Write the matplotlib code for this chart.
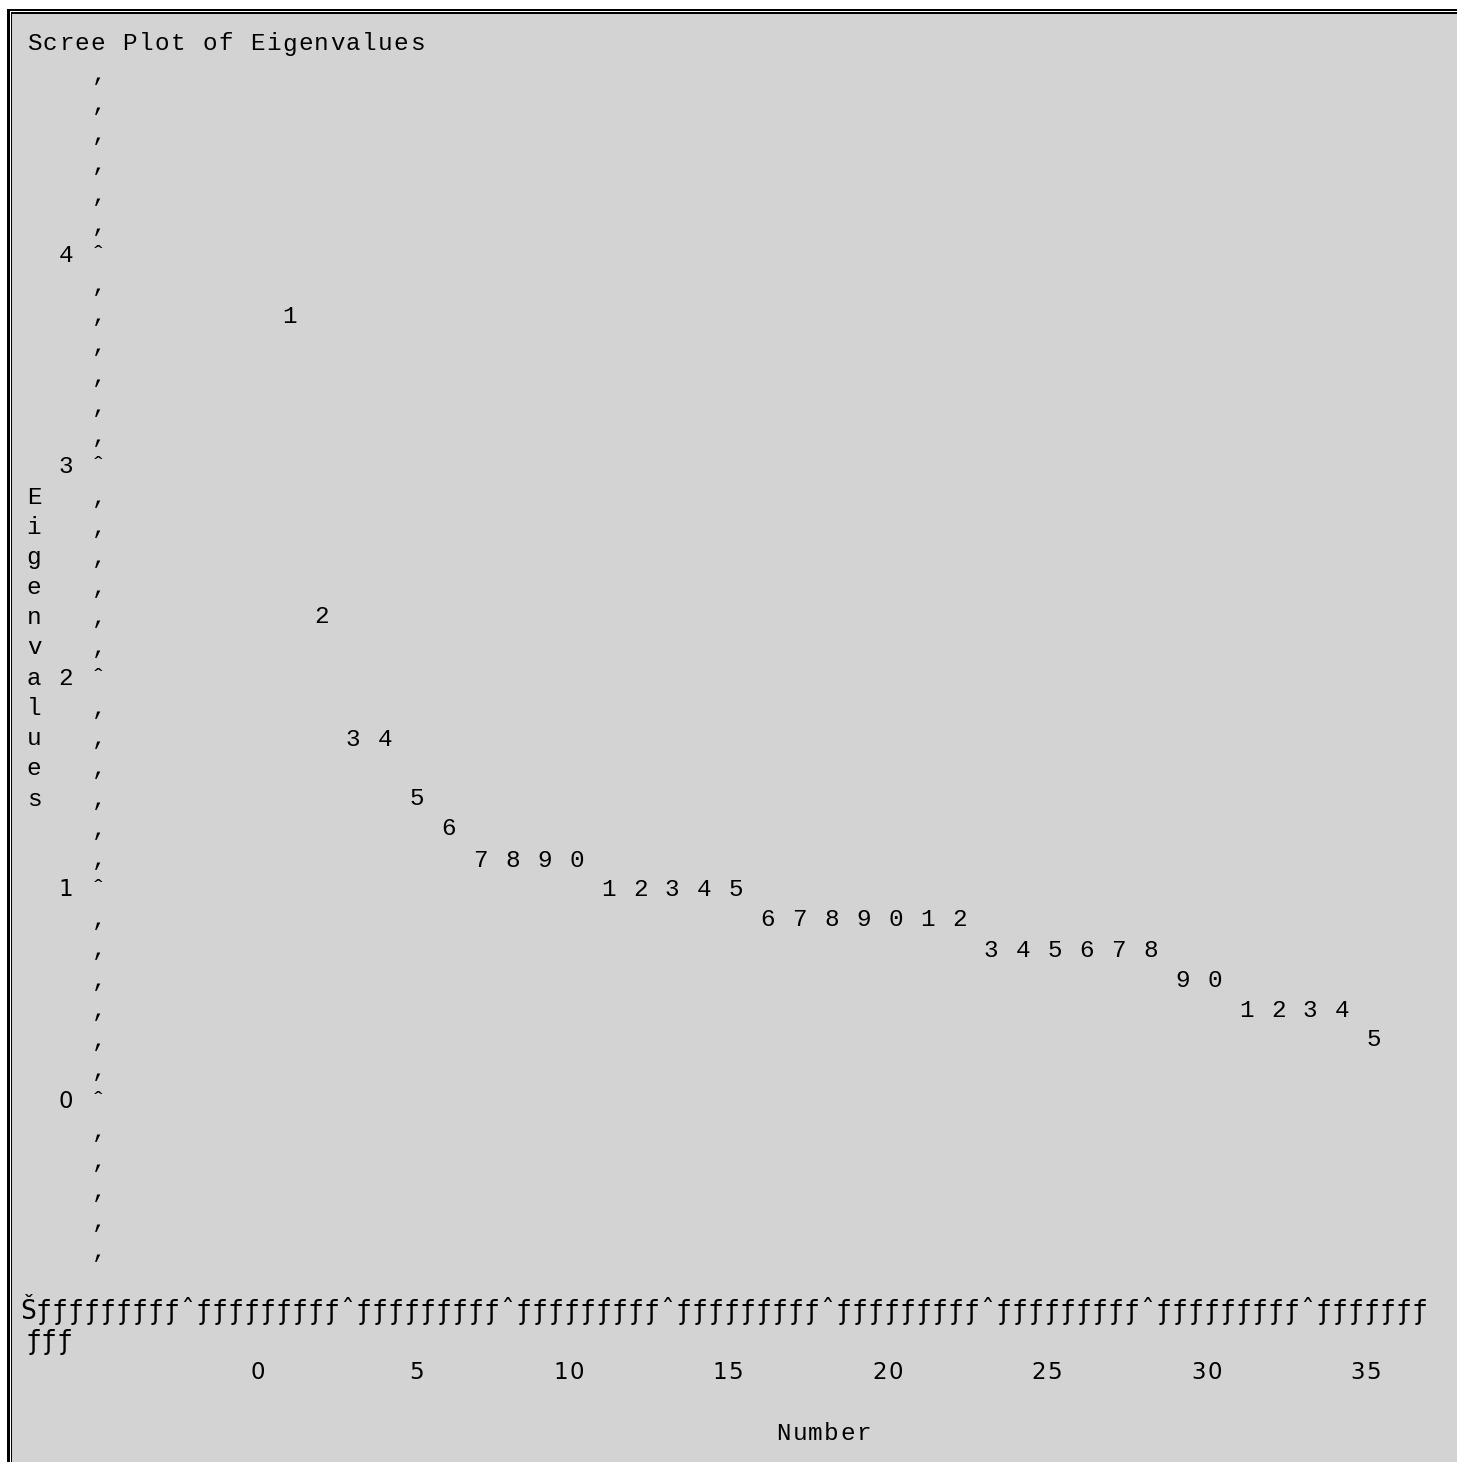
import matplotlib
matplotlib.use("Agg")
import matplotlib.pyplot as plt
from matplotlib import transforms as mtransforms
from matplotlib.patches import Rectangle

# ---------------- data ----------------
title = "Scree Plot of Eigenvalues"
x_label = "Number"
y_label = "Eigenvalues"
numbers = list(range(1, 36))
eigenvalues = [3.71, 2.29, 1.71, 1.71, 1.43, 1.29,
               1.14, 1.14, 1.14, 1.14,
               1.00, 1.00, 1.00, 1.00, 1.00,
               0.86, 0.86, 0.86, 0.86, 0.86, 0.86, 0.86,
               0.71, 0.71, 0.71, 0.71, 0.71, 0.71,
               0.57, 0.57,
               0.43, 0.43, 0.43, 0.43,
               0.29]
x_ticks = [0, 5, 10, 15, 20, 25, 30, 35]
y_ticks = [0, 1, 2, 3, 4]

# ---------------- line-printer layout ----------------
W, H = 1457, 1462
CW = 15.95          # character width (px)
RH = 30.2           # row height (px)
X0, Y0 = 34.0, 43.0 # centre of column 0 / row 0
COLS_PER_UNIT = 2   # columns per x unit
ROWS_PER_UNIT = 7   # rows per y unit
XCOL0 = 14          # column of x = 0
YROW0 = 35          # row of y = 0

MONO = "Liberation Mono"
FS = 17.5           # pt
SANS = "DejaVu Sans"
FS_SANS = 16.5

fig = plt.figure(figsize=(W / 100, H / 100), dpi=100, facecolor="white")

ident = mtransforms.IdentityTransform()
def rect(x0, y0_img, w, h, color):
    fig.add_artist(Rectangle((x0, H - y0_img - h), w, h, transform=ident,
                             facecolor=color, edgecolor="none", zorder=0))

# background and double border (top + left)
rect(12, 14, W - 12, H - 14, "#d3d3d3")
rect(7.3, 9.3, 2.3, H - 9.3, "black")
rect(10.8, 12.4, 1.2, H - 12.4, "black")
rect(7.3, 9.3, W - 7.3, 2.0, "black")
rect(10.8, 12.4, W - 10.8, 1.2, "black")

ax = fig.add_axes([0, 0, 1, 1])
ax.set_axis_off()
ax.patch.set_visible(False)

def px_to_x(px):
    return (px - X0 - XCOL0 * CW) / (COLS_PER_UNIT * CW)
def py_to_y(py):
    return (YROW0 - (py - Y0) / RH) / ROWS_PER_UNIT

ax.set_xlim(px_to_x(0), px_to_x(W))
ax.set_ylim(py_to_y(H), py_to_y(0))

col_step = 1.0 / COLS_PER_UNIT
def col_x(col):
    return (col - XCOL0) / COLS_PER_UNIT
def row_y(row):
    return (YROW0 - row) / ROWS_PER_UNIT

tr = mtransforms.offset_copy(ax.transData, fig=fig, x=0, y=-7.5, units="dots")

def put_chars(x_first, y, s, family=MONO, size=FS):
    """Write s one character per printer column, starting at data x x_first."""
    for i, ch in enumerate(s):
        if ch == " ":
            continue
        ax.text(x_first + i * col_step, y, ch, family=family, fontsize=size,
                ha="center", va="baseline", transform=tr, color="black")

# title
put_chars(col_x(0), row_y(0), title)

# vertical axis (commas and tick marks)
axis_col = 4
last_row = YROW0 + 5
for r in range(1, last_row + 1):
    ch = "ˆ" if (YROW0 - r) % ROWS_PER_UNIT == 0 else "‚"
    put_chars(col_x(axis_col), row_y(r), ch)

# y tick labels
for t in y_ticks:
    put_chars(col_x(2), t, str(t),
              family=MONO if t >= 2 else SANS,
              size=FS if t >= 2 else FS_SANS)

# y label, written vertically
for i, ch in enumerate(y_label):
    put_chars(col_x(0), row_y(15 + i), ch)

# data points: digit = number mod 10
for n, v in zip(numbers, eigenvalues):
    put_chars(n, v, str(n % 10))

# horizontal axis line (wrapped as in the printout)
axis_line = "Š" + ("ƒ" * 9 + "ˆ") * 8 + "ƒ" * 7
ax.text(px_to_x(20), row_y(42), axis_line, family="DejaVu Sans Mono",
        fontsize=19.2, ha="left", va="baseline", transform=tr, color="black")
ax.text(px_to_x(26), row_y(43), "ƒƒƒ", family="DejaVu Sans Mono",
        fontsize=19.2, ha="left", va="baseline", transform=tr, color="black")

# x tick labels (right-aligned on the tick column)
for t in x_ticks:
    lab = str(t)
    put_chars(t - (len(lab) - 1) * col_step, row_y(44), lab,
              family=SANS, size=FS_SANS)

# x label
put_chars(col_x(47), row_y(46), x_label)

fig.savefig("out.png", dpi=100, facecolor="white")
